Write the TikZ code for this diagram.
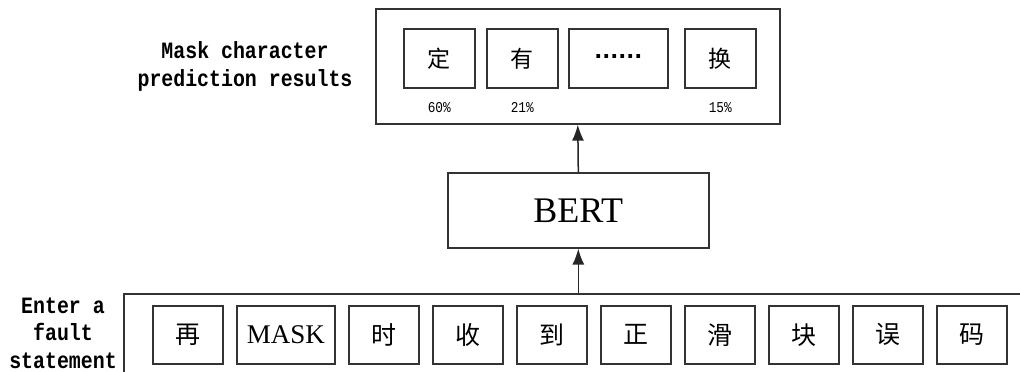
\documentclass[tikz,border=0pt]{standalone}
\usepackage{fontspec}
\setmainfont{Liberation Serif}
\newfontfamily\cjk{Noto Sans CJK SC}
\newfontfamily\dotsfont{DejaVu Sans}
\newfontfamily\narrowmono{Liberation Mono}[FakeStretch=0.85]
\usetikzlibrary{arrows.meta}
\begin{document}
\begin{tikzpicture}[x=1pt,y=-1pt,
  box/.style={draw=black!80, line width=1.6pt, inner sep=0pt, anchor=north west},
  topch/.style={box, minimum width=71pt, minimum height=59pt, font=\cjk\fontsize{23}{23}\selectfont},
  botch/.style={box, minimum width=70pt, minimum height=58pt, font=\cjk\fontsize{25}{25}\selectfont},
  pct/.style={font=\narrowmono\fontsize{15}{15}\selectfont, inner sep=0pt},
  lab/.style={align=center, font=\narrowmono\bfseries\fontsize{23.4}{28}\selectfont, inner sep=0pt},
  arr/.style={draw=black!85, line width=1.5pt, -{Latex[length=16pt,width=12pt]}}]
\useasboundingbox (0,0) rectangle (1020,372);
\clip (0,0) rectangle (1020,372);
% top group
\node[box, minimum width=404pt, minimum height=115pt] (outtop) at (375,8) {};
\node[topch] (t1) at (403,28) {定};
\node[topch] (t2) at (486,28) {有};
\node[box, minimum width=99pt, minimum height=59pt, font=\dotsfont\bfseries\fontsize{21}{21}\selectfont] (t3) at (568,28) {\raisebox{3pt}{......}};
\node[topch] (t4) at (684,28) {换};
\node[pct] (p1) at ([yshift=-19pt]t1.south) {60\%};
\node[pct] (p2) at ([yshift=-19pt]t2.south) {21\%};
\node[pct] (p4) at ([yshift=-19pt]t4.south) {15\%};
\node[lab] (labtop) at (245,66) {Mask character\\prediction results};
% BERT
\node[box, minimum width=261pt, minimum height=75pt, font=\fontsize{36}{36}\selectfont] (bert) at (447,172) {BERT};
% bottom group
\node[box, minimum width=920pt, minimum height=110pt] (outbot) at (123,293) {};
\node[botch] (b1) at (152,305) {再};
\node[box, minimum width=98pt, minimum height=58pt, font=\fontsize{27}{27}\selectfont] (b2) at (236,305) {MASK};
\node[botch] (b3) at (348,305) {时};
\node[botch] (b4) at (432,305) {收};
\node[botch] (b5) at (516,305) {到};
\node[botch] (b6) at (600,305) {正};
\node[botch] (b7) at (684,305) {滑};
\node[botch] (b8) at (768,305) {块};
\node[botch] (b9) at (852,305) {误};
\node[botch] (b10) at (936,305) {码};
\node[lab, font=\narrowmono\bfseries\fontsize{23.4}{27.5}\selectfont] (labbot) at (63,333) {Enter a\\fault\\statement};
% arrows
\draw[arr] (bert.south |- outbot.north) -- (bert.south);
\draw[arr] (bert.north) -- (outtop.south);
\end{tikzpicture}
\end{document}
